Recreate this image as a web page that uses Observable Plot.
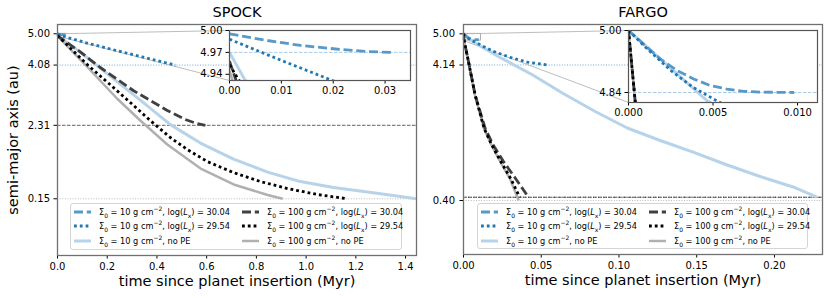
<!DOCTYPE html>
<html><head><meta charset="utf-8">
<script src="https://cdn.jsdelivr.net/npm/d3@7"></script>
<script src="https://cdn.jsdelivr.net/npm/@observablehq/plot@0.6"></script>
<style>
body{margin:0;background:white;}
#chart{position:relative;width:830px;height:298px;font-family:"DejaVu Sans",sans-serif;overflow:hidden;background:white;}
.panel{position:absolute;}
.legend{position:absolute;border:1px solid #d5d5d5;border-radius:3px;background:rgba(255,255,255,0.8);box-sizing:border-box;font-size:8.2px;color:#000;font-family:"DejaVu Sans",sans-serif;}
.entry{position:absolute;display:flex;align-items:center;white-space:nowrap;height:14px;}
.entry svg{margin-right:8px;flex:none;}
sub,sup{font-size:6px;line-height:0;}
</style></head><body><div id="chart"></div>
<script>
// ---------------- DATA ----------------
// SPOCK (time in Myr, semi-major axis in au)
const spock_s10_lx3004_t = [0, 0.0073, 0.0137, 0.0200, 0.0265, 0.0315];
const spock_s10_lx3004_a = [4.9955, 4.9863, 4.9795, 4.9750, 4.9712, 4.9700];
const spock_s10_lx2954_t = [0, 0.01, 0.02, 0.07, 0.125, 0.18, 0.233, 0.285, 0.34, 0.393, 0.44, 0.475];
const spock_s10_lx2954_a = [4.988, 4.959, 4.931, 4.83, 4.715, 4.615, 4.515, 4.42, 4.32, 4.225, 4.14, 4.08];
const spock_s10_nope_t = [0, 0.003, 0.0914, 0.212, 0.333, 0.454, 0.575, 0.708, 0.845, 0.977, 1.110, 1.247, 1.380, 1.444];
const spock_s10_nope_a = [4.970, 4.932, 4.462, 3.756, 3.051, 2.33, 1.787, 1.317, 0.935, 0.656, 0.479, 0.347, 0.218, 0.15];
const spock_s100_lx3004_t = [0, 0.0013, 0.0914, 0.1719, 0.3047, 0.4416, 0.5141, 0.5543, 0.5946];
const spock_s100_lx3004_a = [4.958, 4.931, 4.47, 4.009, 3.333, 2.745, 2.480, 2.377, 2.31];
const spock_s100_lx2954_t = [0, 0.0018, 0.1236, 0.2202, 0.2927, 0.3732, 0.4537, 0.5222, 0.6027, 0.7074, 0.8161, 0.9248, 1.0455, 1.1663];
const spock_s100_lx2954_a = [4.953, 4.932, 4.068, 3.451, 2.980, 2.451, 1.951, 1.598, 1.245, 0.922, 0.657, 0.451, 0.275, 0.15];
const spock_s100_nope_t = [0, 0.0006, 0.1236, 0.2403, 0.3329, 0.4416, 0.5757, 0.7085, 0.8454, 0.9058];
const spock_s100_nope_a = [4.945, 4.931, 4.001, 3.090, 2.451, 1.746, 1.040, 0.570, 0.261, 0.15];

// FARGO
const fargo_s10_lx3004_t = [0, 0.00109, 0.00187, 0.00286, 0.00385, 0.00483, 0.00582, 0.0068, 0.0078, 0.0098];
const fargo_s10_lx3004_a = [5.000, 4.957, 4.927, 4.897, 4.875, 4.858, 4.849, 4.843, 4.841, 4.840];
const fargo_s10_lx2954_t = [0, 0.0011, 0.0025, 0.0038, 0.0052, 0.008, 0.012, 0.019, 0.030, 0.041, 0.054];
const fargo_s10_lx2954_a = [5.000, 4.953, 4.897, 4.854, 4.819, 4.76, 4.67, 4.52, 4.35, 4.22, 4.14];
const fargo_s10_nope_t = [0, 0.00464, 0.0223, 0.0440, 0.0641, 0.0847, 0.1053, 0.1265, 0.1477, 0.1696, 0.1908, 0.2120, 0.2273];
const fargo_s10_nope_a = [5.000, 4.819, 4.374, 3.877, 3.353, 2.856, 2.401, 2.056, 1.733, 1.380, 1.062, 0.773, 0.49];
const fargo_s100_lx3004_t = [0, 0.0004, 0.00322, 0.00752, 0.01395, 0.01929, 0.02572, 0.03325, 0.0418];
const fargo_s100_lx3004_a = [5.0, 4.815, 4.227, 3.306, 2.387, 1.918, 1.476, 1.021, 0.49];
const fargo_s100_lx2954_t = [0, 0.0004, 0.00322, 0.00752, 0.01331, 0.01826, 0.0236, 0.03035, 0.03614];
const fargo_s100_lx2954_a = [5.0, 4.815, 4.227, 3.306, 2.387, 1.926, 1.504, 1.007, 0.49];
const fargo_s100_nope_t = [0, 0.0004, 0.0032, 0.0074, 0.0131, 0.018, 0.0232, 0.0298, 0.0355];
const fargo_s100_nope_a = [5.0, 4.815, 4.227, 3.306, 2.387, 1.926, 1.504, 1.007, 0.40];

// reference (final-value) lines
const spockRefY = [4.08, 2.31, 0.15];
const spockRefKind = ["blueDot", "darkDash", "grayDot"];
const fargoRefY = [4.14, 0.49, 0.49, 0.40];
const fargoRefKind = ["blueDot", "darkDash", "blackDot", "grayDot"];
const spockInsetRefY = [4.97];
const fargoInsetRefY = [4.84];

// ticks
const spockXTicks = [0, 0.2, 0.4, 0.6, 0.8, 1.0, 1.2, 1.4];
const spockYTicks = [5.00, 4.08, 2.31, 0.15];
const fargoXTicks = [0, 0.05, 0.10, 0.15, 0.20];
const fargoYTicks = [5.00, 4.14, 0.40];
const spockInsetXTicks = [0, 0.01, 0.02, 0.03];
const spockInsetYTicks = [5.00, 4.97, 4.94];
const fargoInsetXTicks = [0, 0.005, 0.010];
const fargoInsetYTicks = [5.00, 4.84];

// legend
const legendSigma = ["10", "10", "10", "100", "100", "100"];
const legendLx = ["30.04", "29.54", null, "30.04", "29.54", null];
const titles = ["SPOCK", "FARGO"];
const xLabel = "time since planet insertion (Myr)";
const yLabel = "semi-major axis (au)";

// ---------------- STYLES ----------------
const seriesStroke = ["#5799c7", "#1f77b4", "#b7d3ea", "#404040", "#000000", "#b0b0b0"];
const seriesWidth = [2.8, 2.8, 3, 2.8, 2.8, 2.5];
const seriesDash = ["9,3.8", "2.8,3", null, "9,3.8", "2.8,3", null];
const drawOrder = [2, 5, 0, 1, 3, 4];
const refStyle = {
  blueDot: {stroke: "#5fa0d4", dash: "1,1.6", w: 0.9},
  darkDash: {stroke: "#505050", dash: "3.5,1.5", w: 0.9},
  blackDot: {stroke: "#222222", dash: "1,1.6", w: 0.9},
  grayDot: {stroke: "#bbbbbb", dash: "1,1.6", w: 1},
  blueDash: {stroke: "#a9cbe8", dash: "3.5,1.5", w: 1}
};

const rows = (ts, as) => ts.map((t, i) => ({t, a: as[i]}));
const spockSeries = [
  rows(spock_s10_lx3004_t, spock_s10_lx3004_a), rows(spock_s10_lx2954_t, spock_s10_lx2954_a),
  rows(spock_s10_nope_t, spock_s10_nope_a), rows(spock_s100_lx3004_t, spock_s100_lx3004_a),
  rows(spock_s100_lx2954_t, spock_s100_lx2954_a), rows(spock_s100_nope_t, spock_s100_nope_a)];
const fargoSeries = [
  rows(fargo_s10_lx3004_t, fargo_s10_lx3004_a), rows(fargo_s10_lx2954_t, fargo_s10_lx2954_a),
  rows(fargo_s10_nope_t, fargo_s10_nope_a), rows(fargo_s100_lx3004_t, fargo_s100_lx3004_a),
  rows(fargo_s100_lx2954_t, fargo_s100_lx2954_a), rows(fargo_s100_nope_t, fargo_s100_nope_a)];

function curveMarks(series) {
  return drawOrder.map(i => Plot.line(series[i], {
    x: "t", y: "a", stroke: seriesStroke[i], strokeWidth: seriesWidth[i],
    strokeDasharray: seriesDash[i] || undefined, strokeLinecap: "butt", strokeLinejoin: "round", clip: true
  }));
}
function refMarks(vals, kinds) {
  return vals.map((v, i) => {
    const s = refStyle[kinds[i]];
    return Plot.ruleY([v], {stroke: s.stroke, strokeWidth: s.w, strokeDasharray: s.dash});
  });
}

const chart = document.getElementById("chart");
function place(el, left, top, w) {
  const d = document.createElement("div");
  d.className = "panel"; d.style.left = left + "px"; d.style.top = top + "px"; d.style.width = w + "px";
  d.appendChild(el); chart.appendChild(d);
}

function mainPanel(cfg) {
  const H = 298;
  const xs = Plot.scale({x: {domain: cfg.xDomain, range: [cfg.ml, cfg.width - cfg.mr]}});
  const ys = Plot.scale({y: {domain: cfg.yDomain, range: [H - cfg.mb, cfg.mt]}});
  const ib = cfg.insetBox; // inset frame in panel-local pixels
  const links = [
    {x1: 0, y1: cfg.insetY[1], x2: xs.invert(ib.x), y2: ys.invert(ib.top)},
    {x1: 0, y1: cfg.insetY[0], x2: xs.invert(ib.x), y2: ys.invert(ib.bottom)}
  ];
  const zoomRect = [{x1: 0, x2: cfg.insetX[1], y1: cfg.insetY[0], y2: cfg.insetY[1]}];
  const txt = {text: d => d, fontSize: 14.5, fill: "black", lineAnchor: "middle", textAnchor: "middle"};
  const marks = [
    ...refMarks(cfg.refY, cfg.refKind),
    Plot.rect(zoomRect, {x1: "x1", x2: "x2", y1: "y1", y2: "y2", fill: "none", stroke: "#999", strokeWidth: 0.8}),
    Plot.link(links, {x1: "x1", y1: "y1", x2: "x2", y2: "y2", stroke: "#b5b5b5", strokeWidth: 0.9}),
    ...curveMarks(cfg.series),
    Plot.frame({stroke: "#707070", strokeWidth: 1.3}),
    Plot.text([cfg.title], {...txt, frameAnchor: "top", dy: -12}),
    Plot.text([xLabel], {...txt, frameAnchor: "bottom", dy: 26})
  ];
  if (cfg.yLabel) marks.push(Plot.text([cfg.yLabel], {...txt, frameAnchor: "left", dx: -44, rotate: -90}));
  const p = Plot.plot({
    width: cfg.width, height: H,
    marginLeft: cfg.ml, marginRight: cfg.mr, marginTop: cfg.mt, marginBottom: cfg.mb,
    style: {fontFamily: "DejaVu Sans", fontSize: "10px", background: "transparent", overflow: "visible", color: "black"},
    x: {domain: cfg.xDomain, ticks: cfg.xTicks, tickFormat: d3.format(cfg.xFmt), tickSize: 3.5, tickPadding: 3.5, label: null},
    y: {domain: cfg.yDomain, ticks: cfg.yTicks, tickFormat: d3.format(".2f"), tickSize: 3.5, tickPadding: cfg.yPad, label: null},
    marks
  });
  place(p, cfg.left, 0, cfg.width);
}

function insetPanel(cfg) {
  const p = Plot.plot({
    width: cfg.width, height: cfg.height,
    marginLeft: cfg.ml, marginRight: cfg.mr, marginTop: cfg.mt, marginBottom: cfg.mb,
    style: {fontFamily: "DejaVu Sans", fontSize: "10px", background: "transparent", overflow: "visible", color: "black"},
    x: {domain: cfg.xDomain, ticks: cfg.xTicks, tickFormat: d3.format(cfg.xFmt), tickSize: 3.5, tickPadding: 3, label: null},
    y: {domain: cfg.yDomain, ticks: cfg.yTicks, tickFormat: d3.format(".2f"), tickSize: 3.5, tickPadding: 3.5, label: null},
    marks: [
      Plot.frame({fill: "white", stroke: null}),
      ...refMarks(cfg.refY, cfg.refY.map(() => "blueDash")),
      ...curveMarks(cfg.series),
      Plot.frame({stroke: "#555", strokeWidth: 1.2})
    ]
  });
  place(p, cfg.left, cfg.top, cfg.width);
}

function legend(left, top, width, height) {
  const box = document.createElement("div");
  box.className = "legend";
  Object.assign(box.style, {left: left + "px", top: top + "px", width: width + "px", height: height + "px"});
  legendSigma.forEach((sig, i) => {
    const col = i < 3 ? 0 : 1, row = i % 3;
    const e = document.createElement("div");
    e.className = "entry";
    e.style.left = (col ? 171 : 3) + "px";
    e.style.top = (row * 14.5 + 0.5) + "px";
    const dash = seriesDash[i] ? `stroke-dasharray="${seriesDash[i]}"` : "";
    const label = `Σ<sub>0</sub> = ${sig} g cm<sup>−2</sup>, ` +
      (legendLx[i] ? `log(<i>L</i><sub>x</sub>) = ${legendLx[i]}` : "no PE");
    e.innerHTML = `<svg width="17" height="8"><line x1="0" x2="17" y1="4" y2="4" stroke="${seriesStroke[i]}" stroke-width="${seriesWidth[i]}" ${dash}/></svg><span>${label}</span>`;
    box.appendChild(e);
  });
  chart.appendChild(box);
}

// left main (SPOCK)
mainPanel({
  left: 0, width: 420, ml: 57, mr: 4, mt: 24, mb: 43, yPad: 4,
  xDomain: [0, 1.444], yDomain: [-1.517, 5.273], xTicks: spockXTicks, xFmt: ".1f", yTicks: spockYTicks,
  refY: spockRefY, refKind: spockRefKind, series: spockSeries, title: titles[0], yLabel: yLabel,
  insetX: [0, 0.0349], insetY: [4.9315, 5.0], insetBox: {x: 229, top: 30, bottom: 80}
});
// right main (FARGO)
mainPanel({
  left: 420, width: 410, ml: 43, mr: 8, mt: 24, mb: 44, yPad: 5,
  xDomain: [0, 0.2309], yDomain: [-1.090, 5.257], xTicks: fargoXTicks, xFmt: ".2f", yTicks: fargoYTicks,
  refY: fargoRefY, refKind: fargoRefKind, series: fargoSeries, title: titles[1], yLabel: null,
  insetX: [0, 0.01118], insetY: [4.8142, 5.0], insetBox: {x: 208, top: 30, bottom: 102}
});
legend(70, 203, 332, 47);
legend(477, 203, 331, 46);
// insets
insetPanel({
  left: 194, top: 25, width: 222, height: 75, ml: 35, mr: 6, mt: 5, mb: 20,
  xDomain: [0, 0.0349], yDomain: [4.9315, 5.0], xTicks: spockInsetXTicks, xFmt: ".2f", yTicks: spockInsetYTicks,
  refY: spockInsetRefY, series: spockSeries
});
insetPanel({
  left: 588, top: 25, width: 234, height: 97, ml: 40, mr: 5, mt: 5, mb: 20,
  xDomain: [0, 0.01118], yDomain: [4.8142, 5.0], xTicks: fargoInsetXTicks, xFmt: ".3f", yTicks: fargoInsetYTicks,
  refY: fargoInsetRefY, series: fargoSeries
});
</script></body></html>
